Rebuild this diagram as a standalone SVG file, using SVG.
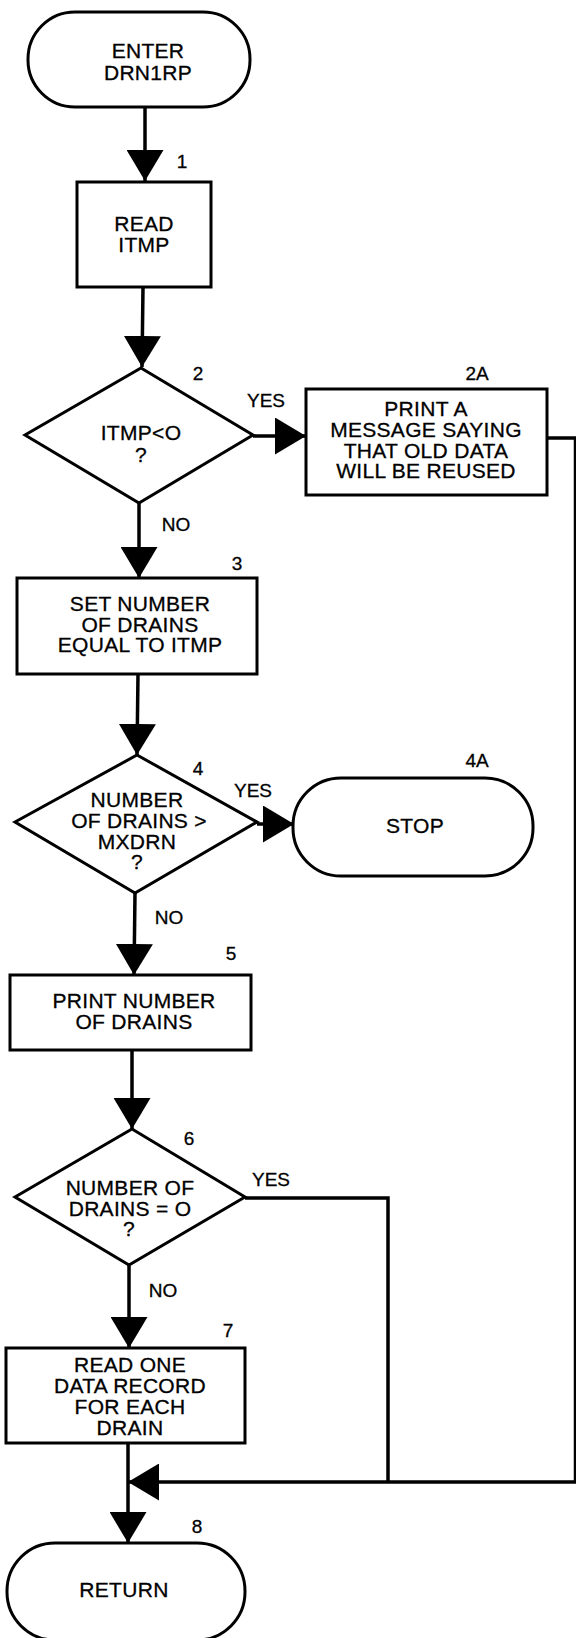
<svg xmlns="http://www.w3.org/2000/svg" width="576" height="1638" viewBox="0 0 576 1638">
<defs>
<marker id="ah" markerUnits="userSpaceOnUse" markerWidth="31" markerHeight="37" refX="31" refY="18.5" orient="auto">
<path d="M0,0 L31,18.5 L0,37 Z" fill="#000"/>
</marker>
<style>
.s{fill:#fff;stroke:#000;stroke-width:3}
.c{fill:none;stroke:#000;stroke-width:3.5}
.t{font-family:"Liberation Sans",Arial,sans-serif;font-size:21px;text-anchor:middle;fill:#000;stroke:#000;stroke-width:0.3;letter-spacing:0.3px}
.l{font-family:"Liberation Sans",Arial,sans-serif;font-size:19px;text-anchor:middle;fill:#000;stroke:#000;stroke-width:0.3}
</style>
</defs>
<rect width="576" height="1638" fill="#fff"/>
<g id="connectors">
<path class="c" d="M145,107 L145,181" marker-end="url(#ah)"/>
<path class="c" d="M143,287 L142,367" marker-end="url(#ah)"/>
<path class="c" d="M253,436 L306,436" marker-end="url(#ah)"/>
<path class="c" d="M139,503 L139,578" marker-end="url(#ah)"/>
<path class="c" d="M138,674 L137,755" marker-end="url(#ah)"/>
<path class="c" d="M257,824 L294,824" marker-end="url(#ah)"/>
<path class="c" d="M135,893 L134,975" marker-end="url(#ah)"/>
<path class="c" d="M132,1050 L132,1129" marker-end="url(#ah)"/>
<path class="c" d="M129,1265 L129,1348" marker-end="url(#ah)"/>
<path class="c" d="M128,1443 L128,1543" marker-end="url(#ah)"/>
<path class="c" d="M245,1198 L388,1198 L388,1482"/>
<path class="c" d="M547,438 L575.5,438 L575.5,1482 L128,1482" marker-end="url(#ah)"/>
</g>
<g id="n0">
<rect class="s" x="28" y="12" width="222" height="95" rx="47" ry="47"/>
<text class="t" x="148" y="58">ENTER</text>
<text class="t" x="148" y="80">DRN1RP</text>
</g>
<g id="n1">
<rect class="s" x="77" y="182" width="134" height="105"/>
<text class="t" x="144" y="231">READ</text>
<text class="t" x="144" y="252">ITMP</text>
<text class="l" x="182" y="168">1</text>
</g>
<g id="n2">
<polygon class="s" points="141,368 253,435 139,503 25,435"/>
<text class="t" x="141" y="440">ITMP&lt;O</text>
<text class="t" x="141" y="462">?</text>
<text class="l" x="198" y="380">2</text>
<text class="l" x="266" y="407">YES</text>
<text class="l" x="176" y="531">NO</text>
</g>
<g id="n2a">
<rect class="s" x="306" y="389" width="241" height="106"/>
<text class="t" x="426" y="416">PRINT A</text>
<text class="t" x="426" y="437">MESSAGE SAYING</text>
<text class="t" x="426" y="458">THAT OLD DATA</text>
<text class="t" x="426" y="478">WILL BE REUSED</text>
<text class="l" x="477" y="380">2A</text>
</g>
<g id="n3">
<rect class="s" x="17" y="578" width="240" height="96"/>
<text class="t" x="140" y="611">SET NUMBER</text>
<text class="t" x="140" y="632">OF DRAINS</text>
<text class="t" x="140" y="652">EQUAL TO ITMP</text>
<text class="l" x="237" y="570">3</text>
</g>
<g id="n4">
<polygon class="s" points="137,755 257,822 135,893 15,822"/>
<text class="t" x="137" y="807">NUMBER</text>
<text class="t" x="139" y="828">OF DRAINS &gt;</text>
<text class="t" x="137" y="849">MXDRN</text>
<text class="t" x="137" y="869">?</text>
<text class="l" x="198" y="775">4</text>
<text class="l" x="253" y="797">YES</text>
<text class="l" x="169" y="924">NO</text>
</g>
<g id="n4a">
<rect class="s" x="293" y="778" width="240" height="98" rx="48" ry="48"/>
<text class="t" x="415" y="833">STOP</text>
<text class="l" x="477" y="767">4A</text>
</g>
<g id="n5">
<rect class="s" x="10" y="975" width="241" height="75"/>
<text class="t" x="134" y="1008">PRINT NUMBER</text>
<text class="t" x="134" y="1029">OF DRAINS</text>
<text class="l" x="231" y="960">5</text>
</g>
<g id="n6">
<polygon class="s" points="132,1129 245,1197 129,1265 15,1197"/>
<text class="t" x="130" y="1195">NUMBER OF</text>
<text class="t" x="130" y="1216">DRAINS = O</text>
<text class="t" x="129" y="1236">?</text>
<text class="l" x="189" y="1145">6</text>
<text class="l" x="271" y="1186">YES</text>
<text class="l" x="163" y="1297">NO</text>
</g>
<g id="n7">
<rect class="s" x="6" y="1348" width="239" height="95"/>
<text class="t" x="130" y="1372">READ ONE</text>
<text class="t" x="130" y="1393">DATA RECORD</text>
<text class="t" x="130" y="1414">FOR EACH</text>
<text class="t" x="130" y="1435">DRAIN</text>
<text class="l" x="228" y="1337">7</text>
</g>
<g id="n8">
<rect class="s" x="7" y="1543" width="238" height="97" rx="48" ry="48"/>
<text class="t" x="124" y="1597">RETURN</text>
<text class="l" x="197" y="1533">8</text>
</g>
</svg>
